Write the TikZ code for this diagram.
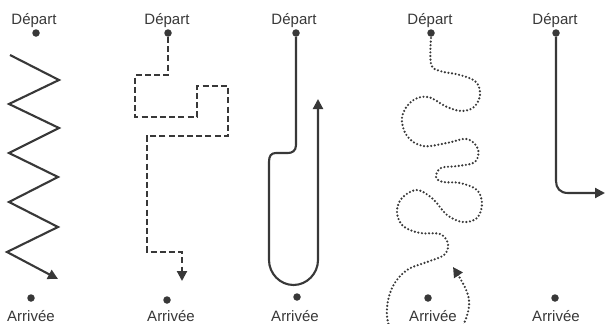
\documentclass[tikz,border=0pt]{standalone}
\usepackage{fontspec}
\setmainfont{Liberation Sans}
\usetikzlibrary{arrows.meta}
\definecolor{ink}{HTML}{383838}
\tikzset{
  lbl/.style={font=\fontsize{15}{17}\selectfont, text=ink, inner sep=0pt, anchor=base},
  dotnode/.style={circle, fill=ink, inner sep=0pt, minimum size=7.5pt},
  route/.style={draw=ink, line width=2.1pt},
  tip/.style={-{Triangle[length=10pt,width=10pt]}},
  dashroute/.style={route, dash pattern=on 6pt off 3.2pt},
  dotroute/.style={route, line width=2.4pt, line cap=round, dash pattern=on 0pt off 3.6pt}
}
\begin{document}
\begin{tikzpicture}[x=1pt,y=-1pt]
\clip (0,0) rectangle (606,324);
\fill[white] (0,0) rectangle (606,324);
% labels
\foreach \n/\dx/\ax in {1/34/31, 2/167/171, 3/294/295, 4/430/433, 5/555/556}{
  \node[lbl] (d\n) at (\dx,24) {Départ};
  \node[lbl] (a\n) at (\ax,321) {Arrivée};
}
% dots
\node[dotnode] (s1) at (36,33) {};
\node[dotnode] (e1) at (31,298) {};
\node[dotnode] (s2) at (168,33) {};
\node[dotnode] (e2) at (167,300) {};
\node[dotnode] (s3) at (296,33) {};
\node[dotnode] (e3) at (297,297) {};
\node[dotnode] (s4) at (431,33) {};
\node[dotnode] (e4) at (428,298) {};
\node[dotnode] (s5) at (556,33) {};
\node[dotnode] (e5) at (555,298) {};
% panel 1 zigzag
\coordinate (z1) at (58,279);
\draw[route, tip, line join=miter] (10,55) -- (59,80) -- (9,104) -- (59,128) -- (9,153) -- (58,177) -- (9,202) -- (58,227) -- (7,252) -- (z1);
% panel 2 dashed
\coordinate (z2) at (182,281);
\draw[dashroute, tip] (s2) -- (168,75) -- (135,75) -- (135,117) -- (197,117) -- (197,86) -- (228,86) -- (228,136) -- (147,136) -- (147,252) -- (182,252) -- (z2);
% panel 3
\coordinate (z3) at (318,99);
\draw[route, tip] (s3) -- (296,145) .. controls (296,151) and (292,153) .. (288,153) -- (276,153)
  .. controls (271,153) and (269,156) .. (269,162) -- (269,260)
  .. controls (269,273.5) and (280,285) .. (293.5,285)
  .. controls (307,285) and (318,273.5) .. (318,260) -- (z3);
% panel 4 dotted
\coordinate (z4) at (453,267);
\draw[dotroute, tip] plot[smooth, tension=0.6] coordinates {
 (431,38) (431,64) (440,71) (460,75) (476,82) (480,95) (474,107) (462,111) (447,107) (428,97)
 (412,101) (402,117) (407,136) (423,146) (447,143) (467,139) (478,149) (475,162) (458,166) (441,168)
 (436,177) (443,182) (460,183) (477,190) (482,204) (477,218) (463,222) (447,215) (433,199) (417,190)
 (402,198) (397,212) (403,226) (420,233) (440,234) (448,244) (444,255) (427,262) (407,270) (393,286)
 (387,308) (390,328) (405,345) (430,350) (455,338) (468,312) (467,292) (z4)};
% panel 5
\coordinate (z5) at (605,193);
\draw[route, tip] (s5) -- (556,181) .. controls (556,188) and (560,193) .. (568,193) -- (z5);
\end{tikzpicture}
\end{document}
